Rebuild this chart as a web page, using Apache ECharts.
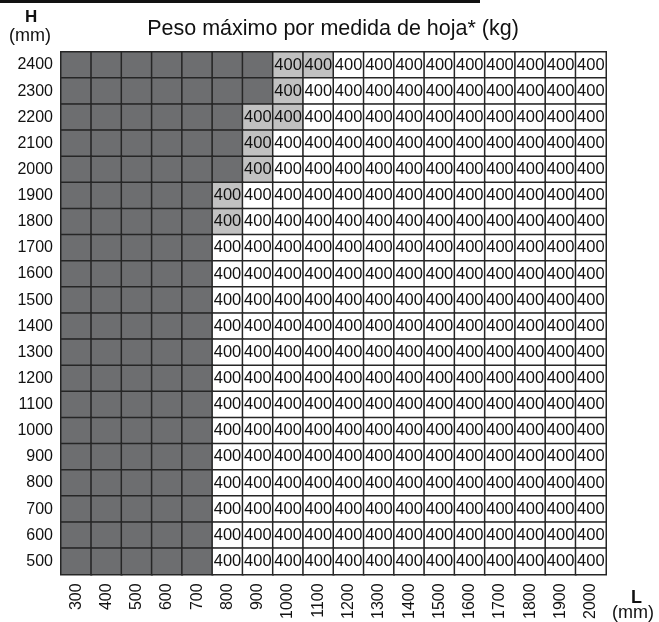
<!DOCTYPE html>
<html>
<head>
<meta charset="utf-8">
<script src="https://cdn.jsdelivr.net/npm/echarts@6/dist/echarts.min.js"></script>
<style>
html,body{margin:0;padding:0;background:#fff;}
#c{width:659px;height:622px;}
</style>
</head>
<body>
<div id="c"></div>
<script>
// Leaf width L (mm) — columns
const widthsL = ['300','400','500','600','700','800','900','1000','1100','1200','1300','1400','1500','1600','1700','1800','1900','2000'];
// Leaf height H (mm) — rows, bottom to top
const heightsH = ['500','600','700','800','900','1000','1100','1200','1300','1400','1500','1600','1700','1800','1900','2000','2100','2200','2300','2400'];
// Max weight per leaf (kg)
const maxWeightKg = 400;
// Cell availability per row (top row 2400 first): D = not available, L = 400 (shaded), W = 400
const rowCodes = [
  'DDDDDDDLLWWWWWWWWW', // 2400
  'DDDDDDDLWWWWWWWWWW', // 2300
  'DDDDDDLLWWWWWWWWWW', // 2200
  'DDDDDDLWWWWWWWWWWW', // 2100
  'DDDDDDLWWWWWWWWWWW', // 2000
  'DDDDDLWWWWWWWWWWWW', // 1900
  'DDDDDLWWWWWWWWWWWW', // 1800
  'DDDDDWWWWWWWWWWWWW', // 1700
  'DDDDDWWWWWWWWWWWWW', // 1600
  'DDDDDWWWWWWWWWWWWW', // 1500
  'DDDDDWWWWWWWWWWWWW', // 1400
  'DDDDDWWWWWWWWWWWWW', // 1300
  'DDDDDWWWWWWWWWWWWW', // 1200
  'DDDDDWWWWWWWWWWWWW', // 1100
  'DDDDDWWWWWWWWWWWWW', // 1000
  'DDDDDWWWWWWWWWWWWW', // 900
  'DDDDDWWWWWWWWWWWWW', // 800
  'DDDDDWWWWWWWWWWWWW', // 700
  'DDDDDWWWWWWWWWWWWW', // 600
  'DDDDDWWWWWWWWWWWWW'  // 500
];
const codeColors = { D: '#6d6e70', L: '#c1c1c1', W: '#ffffff' };

const data = [];
rowCodes.forEach((codes, r) => {
  const yi = heightsH.length - 1 - r;
  for (let xi = 0; xi < widthsL.length; xi++) {
    const c = codes[xi];
    data.push({
      value: [xi, yi, c === 'D' ? 0 : maxWeightKg],
      itemStyle: { color: codeColors[c] },
      label: { show: c !== 'D' }
    });
  }
});

const FONT = 'Liberation Sans, Arial, sans-serif';
const chart = echarts.init(document.getElementById('c'), null, { renderer: 'canvas' });
chart.setOption({
  animation: false,
  backgroundColor: '#ffffff',
  graphic: [
    { type: 'rect', shape: { x: 0, y: 0, width: 480, height: 3 }, style: { fill: '#111' } },
    { type: 'text', x: 333, y: 29, style: { text: 'Peso máximo por medida de hoja* (kg)', font: '21.5px ' + FONT, fill: '#111', align: 'center', verticalAlign: 'middle' } },
    { type: 'text', left: 25, top: 9, style: { text: 'H', font: 'bold 17px ' + FONT, fill: '#111' } },
    { type: 'text', left: 9, top: 27, style: { text: '(mm)', font: '18px ' + FONT, fill: '#111' } },
    { type: 'text', left: 631, top: 589, style: { text: 'L', font: 'bold 18px ' + FONT, fill: '#111' } },
    { type: 'text', left: 612, top: 604, style: { text: '(mm)', font: '18px ' + FONT, fill: '#111' } }
  ],
  grid: { left: 61, top: 52, width: 545, height: 530, containLabel: false },
  xAxis: {
    type: 'category', data: widthsL,
    axisLine: { show: false }, axisTick: { show: false }, splitLine: { show: false },
    axisLabel: { rotate: 90, margin: 9, fontFamily: FONT, fontSize: 16, color: '#111', interval: 0 }
  },
  yAxis: {
    type: 'category', data: heightsH,
    axisLine: { show: false }, axisTick: { show: false }, splitLine: { show: false },
    axisLabel: { margin: 8, fontFamily: FONT, fontSize: 16, color: '#111', interval: 0 }
  },
  series: [{
    type: 'heatmap',
    data: data,
    itemStyle: { borderColor: '#262626', borderWidth: 1.5 },
    label: { show: true, fontFamily: FONT, fontSize: 16.5, color: '#111',
      formatter: p => String(p.value[2]) },
    emphasis: { disabled: true }
  }]
});
</script>
</body>
</html>
